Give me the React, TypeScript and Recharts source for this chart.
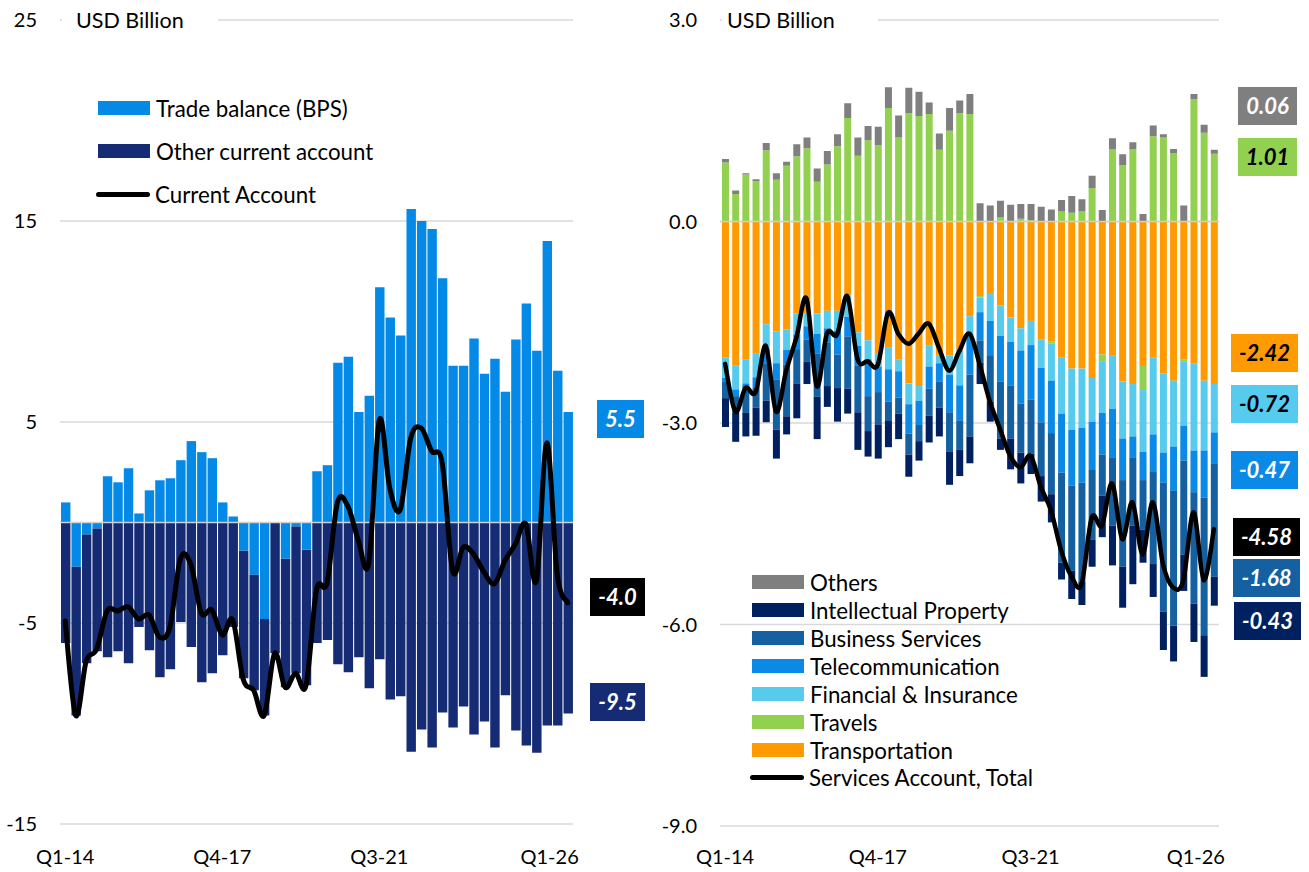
import React from 'react';
import { ComposedChart, Bar, Line, XAxis, YAxis, CartesianGrid, ReferenceLine } from 'recharts';

// ---------- categories ----------
const quarters = [
  'Q1-14','Q2-14','Q3-14','Q4-14','Q1-15','Q2-15','Q3-15','Q4-15','Q1-16','Q2-16','Q3-16','Q4-16',
  'Q1-17','Q2-17','Q3-17','Q4-17','Q1-18','Q2-18','Q3-18','Q4-18','Q1-19','Q2-19','Q3-19','Q4-19',
  'Q1-20','Q2-20','Q3-20','Q4-20','Q1-21','Q2-21','Q3-21','Q4-21','Q1-22','Q2-22','Q3-22','Q4-22',
  'Q1-23','Q2-23','Q3-23','Q4-23','Q1-24','Q2-24','Q3-24','Q4-24','Q1-25','Q2-25','Q3-25','Q4-25',
  'Q1-26',
];
const xTicks = ['Q1-14', 'Q4-17', 'Q3-21', 'Q1-26'];

// ---------- left panel (USD bn) ----------
const tradeBalance = [
  1.0, -2.2, -0.6, -0.3, 2.3, 2.0, 2.7, 0.45, 1.6, 2.1, 2.2, 3.1, 4.05, 3.5, 3.2, 1.0, 0.3,
  -1.4, -2.6, -4.8, 0.0, -1.8, -0.2, -1.35, 2.55, 2.85, 7.95, 8.25, 5.5, 6.3, 11.7, 10.2, 9.3,
  15.6, 15.0, 14.6, 12.15, 7.8, 7.8, 9.15, 7.4, 8.15, 6.5, 9.1, 10.9, 8.55, 14.0, 7.55, 5.5,
];
const otherCurrentAccount = [
  -6.0, -7.4, -6.4, -6.1, -6.7, -6.4, -7.0, -5.2, -6.35, -7.7, -7.3, -4.95, -6.2, -7.95, -7.5, -6.6, -5.2,
  -6.35, -5.75, -4.8, -6.5, -6.4, -7.3, -6.75, -6.0, -5.85, -7.05, -7.45, -6.7, -8.25, -6.8, -8.8, -8.65,
  -11.4, -10.3, -11.2, -9.45, -10.2, -9.15, -10.55, -9.9, -11.2, -8.6, -10.35, -11.1, -11.45, -10.1, -10.1, -9.5,
];
const currentAccount = [
  -4.9, -9.6, -6.9, -6.3, -4.4, -4.4, -4.2, -4.8, -4.6, -5.7, -5.2, -1.8, -2.1, -4.5, -4.35, -5.6, -4.85,
  -7.8, -8.35, -9.6, -6.5, -8.2, -7.5, -8.1, -3.35, -3.0, 1.0, 0.8, -0.9, -2.0, 5.1, 1.7, 0.65,
  4.2, 4.7, 3.55, 2.97, -2.4, -1.24, -1.57, -2.47, -3.05, -1.9, -1.07, -0.08, -2.9, 3.96, -2.6, -4.0,
];

// ---------- right panel (USD bn) ----------
const transportation = [
  -2.03, -2.14, -2.05, -1.96, -1.53, -1.64, -1.61, -1.37, -1.37, -1.37, -1.33, -1.33, -1.10, -1.65, -1.77, -1.96, -1.88,
  -2.05, -2.41, -2.45, -1.85, -1.99, -2.00, -1.92, -1.41, -1.11, -1.08, -1.25, -1.43, -1.59, -1.48, -1.76, -1.79,
  -2.02, -2.19, -2.19, -2.33, -1.98, -1.99, -2.38, -2.42, -2.15, -2.02, -2.26, -2.37, -2.06, -2.11, -2.37, -2.42,
];
const travels = [
  0.88, 0.41, 0.70, 0.60, 1.06, 0.62, 0.83, 0.97, 1.09, 0.59, 0.85, 1.12, 1.54, 0.98, 1.21, 1.14, 1.69,
  1.25, 1.61, 1.57, 1.60, 1.07, 1.35, 1.61, 1.60, -0.02, 0.0, 0.06, 0.0, 0.04, 0.02, 0.0, -0.03,
  0.15, 0.13, 0.15, 0.50, -0.10, 1.08, 0.84, 1.08, -0.36, 1.27, 1.25, 1.02, -0.02, 1.82, 1.32, 1.01,
];
const financialInsurance = [
  -0.30, -0.36, -0.36, -0.36, -0.37, -0.47, -0.30, -0.31, -0.19, -0.30, -0.26, -0.30, -0.32, -0.20, -0.28, -0.20, -0.32,
  -0.18, -0.31, -0.22, -0.31, -0.12, -0.28, -0.52, -0.29, -0.22, -0.40, -0.45, -0.36, -0.33, -0.36, -0.42, -0.55,
  -0.84, -0.91, -0.88, -0.65, -0.77, -0.80, -0.85, -0.78, -0.92, -1.15, -1.18, -0.98, -0.96, -1.30, -1.04, -0.72,
];
const telecommunication = [
  -0.06, -0.10, -0.04, -0.15, -0.21, -0.24, -0.22, -0.22, -0.20, -0.30, -0.21, -0.35, -0.29, -0.30, -0.55, -0.38, -0.48,
  -0.39, -0.44, -0.36, -0.33, -0.27, -0.56, -0.52, -0.58, -0.42, -0.51, -0.68, -0.65, -0.79, -0.81, -0.81, -0.78,
  -0.88, -0.83, -0.82, -0.72, -0.62, -0.72, -0.62, -0.32, -0.42, -0.56, -0.45, -0.66, -0.52, -0.62, -0.70, -0.47,
];
const businessServices = [
  -0.24, -0.25, -0.40, -0.30, -0.56, -0.75, -0.77, -0.51, -0.33, -0.64, -0.65, -0.50, -0.78, -0.69, -0.52, -0.48, -0.29,
  -0.24, -0.31, -0.24, -0.40, -0.39, -0.59, -0.44, -0.92, -0.33, -0.69, -0.85, -0.79, -0.73, -0.81, -0.80, -0.91,
  -1.34, -1.27, -1.47, -1.04, -0.61, -1.02, -1.29, -1.01, -0.74, -1.37, -1.92, -2.01, -1.40, -1.66, -2.05, -1.68,
];
const intellectualProperty = [
  -0.43, -0.43, -0.35, -0.42, -0.32, -0.43, -0.27, -0.52, -0.33, -0.63, -0.31, -0.50, -0.37, -0.56, -0.38, -0.51, -0.39,
  -0.38, -0.33, -0.29, -0.40, -0.43, -0.49, -0.39, -0.40, -0.32, -0.30, -0.17, -0.46, -0.46, -0.30, -0.38, -0.42,
  -0.25, -0.42, -0.35, -0.40, -0.62, -0.59, -0.61, -0.87, -0.49, -0.49, -0.57, -0.53, -0.54, -0.57, -0.62, -0.43,
];
const others = [
  0.05, 0.05, 0.02, 0.03, 0.11, 0.10, 0.06, 0.18, 0.16, 0.20, 0.20, 0.18, 0.22, 0.27, 0.21, 0.27, 0.31,
  0.33, 0.38, 0.36, 0.17, 0.24, 0.34, 0.19, 0.30, 0.27, 0.24, 0.25, 0.25, 0.22, 0.24, 0.22, 0.18,
  0.17, 0.25, 0.18, 0.18, 0.17, 0.16, 0.16, 0.10, 0.11, 0.16, 0.05, 0.06, 0.24, 0.08, 0.12, 0.06,
];
const servicesTotal = [
  -2.12, -2.83, -2.48, -2.54, -1.85, -2.83, -2.22, -1.73, -1.15, -2.45, -1.67, -1.68, -1.11, -2.05, -2.08, -2.13, -1.36,
  -1.67, -1.82, -1.67, -1.52, -1.88, -2.22, -1.93, -1.67, -2.13, -2.68, -3.09, -3.49, -3.66, -3.49, -3.95, -4.30,
  -4.90, -5.28, -5.40, -4.41, -4.53, -3.90, -4.73, -4.18, -4.96, -4.18, -5.10, -5.45, -5.34, -4.33, -5.34, -4.58,
];

const C = {
  trade: '#0589e6',
  other: '#152b73',
  others: '#7f7f7f',
  ip: '#002060',
  business: '#1460a0',
  telecom: '#0a8ae6',
  financial: '#56cbee',
  travels: '#92d050',
  transport: '#ff9a00',
  grid: '#d9d9d9',
};
const FONT = 'Lato, "Open Sans", sans-serif';

const leftData = quarters.map((q, i) => ({
  q, trade: tradeBalance[i], other: otherCurrentAccount[i], ca: currentAccount[i],
}));
const rightData = quarters.map((q, i) => ({
  q,
  transport: transportation[i], travels: travels[i], financial: financialInsurance[i],
  telecom: telecommunication[i], business: businessServices[i], ip: intellectualProperty[i],
  others: others[i], total: servicesTotal[i],
}));

// Excel-like smoothed line (Catmull-Rom through every point)
const smoothCurve: any = (context: any) => {
  let pts: number[][] = [];
  return {
    areaStart() {}, areaEnd() {},
    lineStart() { pts = []; },
    point(x: number, y: number) { pts.push([+x, +y]); },
    lineEnd() {
      const n = pts.length;
      if (!n) return;
      context.moveTo(pts[0][0], pts[0][1]);
      for (let i = 0; i < n - 1; i++) {
        const p0 = pts[Math.max(i - 1, 0)], p1 = pts[i], p2 = pts[i + 1], p3 = pts[Math.min(i + 2, n - 1)];
        context.bezierCurveTo(
          p1[0] + (p2[0] - p0[0]) / 6, p1[1] + (p2[1] - p0[1]) / 6,
          p2[0] - (p3[0] - p1[0]) / 6, p2[1] - (p3[1] - p1[1]) / 6,
          p2[0], p2[1],
        );
      }
    },
  };
};

const XTick = (props: any) => {
  const { x, y, payload } = props;
  const isLast = payload.value === quarters[quarters.length - 1];
  return (
    <text x={isLast ? x + 11 : x} y={y} dy="0.71em" textAnchor={isLast ? 'end' : 'middle'}
      fill="#000" fontSize={20} fontFamily={FONT}>{payload.value}</text>
  );
};

const tickStyle = { fontSize: 20, fill: '#000', fontFamily: FONT };

const abs = (l: number, t: number, extra: any = {}) => ({ position: 'absolute' as const, left: l, top: t, ...extra });

const ValueBox = ({ l, t, w, bg, color, text }: any) => (
  <div style={abs(l, t, {
    width: w, height: 38, background: bg, color, fontFamily: FONT, fontWeight: 700, fontStyle: 'italic',
    fontSize: 22, display: 'flex', alignItems: 'center', justifyContent: 'center', lineHeight: 1,
  })}>{text}</div>
);

const LEG_FONT = 22.3;
const LegendRect = ({ l, t, color, label }: any) => (
  <div style={abs(l, t - 14, { height: 28, display: 'flex', alignItems: 'center', fontFamily: FONT, fontSize: LEG_FONT, color: '#000', whiteSpace: 'nowrap' })}>
    <div style={{ width: 52, height: 14, background: color, marginRight: 6, flex: 'none' }} />
    {label}
  </div>
);
const LegendLine = ({ l, t, label }: any) => (
  <div style={abs(l, t - 14, { height: 28, display: 'flex', alignItems: 'center', fontFamily: FONT, fontSize: LEG_FONT, color: '#000', whiteSpace: 'nowrap' })}>
    <div style={{ width: 54, height: 5, background: '#000', borderRadius: 3, marginRight: 5, flex: 'none' }} />
    {label}
  </div>
);

const fmt1 = (v: number) => v.toFixed(1);
const fmt2 = (v: number) => v.toFixed(2);
const L = quarters.length - 1;

export default function App() {
  return (
    <div style={{ position: 'absolute', left: 0, top: 0, width: 1309, height: 872, background: '#fff', overflow: 'hidden' }}>
      {/* LEFT PANEL */}
      <div style={abs(0, 0)}>
        <ComposedChart width={600} height={872} data={leftData} stackOffset="sign"
          margin={{ top: 20, right: 27, bottom: 0, left: 0 }} barCategoryGap={0} barGap={0}>
          <CartesianGrid horizontal vertical={false} stroke={C.grid} strokeWidth={1.5} />
          <XAxis dataKey="q" ticks={xTicks} interval={0} height={48} axisLine={false} tickLine={false}
            tickMargin={20} tick={<XTick />} />
          <YAxis type="number" domain={[-15, 25]} ticks={[-15, -5, 5, 15, 25]} interval={0} width={60}
            axisLine={false} tickLine={false} tickMargin={17} tick={tickStyle} allowDataOverflow />
          <Bar dataKey="trade" stackId="s" fill={C.trade} barSize={10.5} isAnimationActive={false} />
          <Bar dataKey="other" stackId="s" fill={C.other} barSize={10.5} isAnimationActive={false} />
          <ReferenceLine y={0} stroke="#d0d0d0" strokeWidth={1.5} />
          <Line dataKey="ca" type={smoothCurve} stroke="#000" strokeWidth={5} dot={false}
            strokeLinecap="round" strokeLinejoin="round" isAnimationActive={false} />
        </ComposedChart>
      </div>

      {/* RIGHT PANEL */}
      <div style={abs(640, 0)}>
        <ComposedChart width={600} height={872} data={rightData} stackOffset="sign"
          margin={{ top: 20, right: 21, bottom: 0, left: 0 }}>
          <CartesianGrid horizontal vertical={false} stroke={C.grid} strokeWidth={1.5} />
          <XAxis dataKey="q" ticks={xTicks} interval={0} height={46} axisLine={false} tickLine={false}
            tickMargin={18} tick={<XTick />} />
          <YAxis type="number" domain={[-9, 3]} ticks={[-9, -6, -3, 0, 3]} interval={0} width={80}
            axisLine={false} tickLine={false} tickMargin={17} tick={tickStyle} tickFormatter={fmt1} allowDataOverflow />
          <Bar dataKey="transport" stackId="r" fill={C.transport} barSize={7} isAnimationActive={false} />
          <Bar dataKey="travels" stackId="r" fill={C.travels} barSize={7} isAnimationActive={false} />
          <Bar dataKey="financial" stackId="r" fill={C.financial} barSize={7} isAnimationActive={false} />
          <Bar dataKey="telecom" stackId="r" fill={C.telecom} barSize={7} isAnimationActive={false} />
          <Bar dataKey="business" stackId="r" fill={C.business} barSize={7} isAnimationActive={false} />
          <Bar dataKey="ip" stackId="r" fill={C.ip} barSize={7} isAnimationActive={false} />
          <Bar dataKey="others" stackId="r" fill={C.others} barSize={7} isAnimationActive={false} />
          <ReferenceLine y={0} stroke="#d0d0d0" strokeWidth={1.5} />
          <Line dataKey="total" type={smoothCurve} stroke="#000" strokeWidth={4.5} dot={false}
            strokeLinecap="round" strokeLinejoin="round" isAnimationActive={false} />
        </ComposedChart>
      </div>

      {/* titles */}
      <div style={abs(62, 5, { width: 156, height: 30, background: '#fff', fontFamily: FONT, fontSize: 21.5, color: '#000', paddingLeft: 14, boxSizing: 'border-box', lineHeight: '30px', whiteSpace: 'nowrap' })}>USD Billion</div>
      <div style={abs(722, 5, { width: 156, height: 30, background: '#fff', fontFamily: FONT, fontSize: 21.5, color: '#000', paddingLeft: 5, boxSizing: 'border-box', lineHeight: '30px', whiteSpace: 'nowrap' })}>USD Billion</div>

      {/* left legend */}
      <LegendRect l={98} t={108} color={C.trade} label="Trade balance (BPS)" />
      <LegendRect l={98} t={151} color={C.other} label="Other current account" />
      <LegendLine l={96} t={194} label="Current Account" />

      {/* right legend */}
      <LegendRect l={752} t={582} color={C.others} label="Others" />
      <LegendRect l={752} t={610} color={C.ip} label="Intellectual Property" />
      <LegendRect l={752} t={638} color={C.business} label="Business Services" />
      <LegendRect l={752} t={666} color={C.telecom} label="Telecommunication" />
      <LegendRect l={752} t={694} color={C.financial} label="Financial & Insurance" />
      <LegendRect l={752} t={722} color={C.travels} label="Travels" />
      <LegendRect l={752} t={750} color={C.transport} label="Transportation" />
      <LegendLine l={750} t={777} label="Services Account, Total" />

      {/* left value boxes */}
      <ValueBox l={597} t={400} w={47} bg={C.trade} color="#fff" text={fmt1(tradeBalance[L])} />
      <ValueBox l={590} t={578} w={55} bg="#000" color="#fff" text={fmt1(currentAccount[L])} />
      <ValueBox l={590} t={683} w={55} bg={C.other} color="#fff" text={fmt1(otherCurrentAccount[L])} />

      {/* right value boxes */}
      <ValueBox l={1238} t={87} w={59} bg={C.others} color="#fff" text={fmt2(others[L])} />
      <ValueBox l={1238} t={138} w={59} bg={C.travels} color="#000" text={fmt2(travels[L])} />
      <ValueBox l={1231} t={334} w={67} bg={C.transport} color="#000" text={fmt2(transportation[L])} />
      <ValueBox l={1231} t={385} w={67} bg={C.financial} color="#000" text={fmt2(financialInsurance[L])} />
      <ValueBox l={1231} t={451} w={67} bg={C.telecom} color="#fff" text={fmt2(telecommunication[L])} />
      <ValueBox l={1233} t={518} w={67} bg="#000" color="#fff" text={fmt2(servicesTotal[L])} />
      <ValueBox l={1233} t={559} w={67} bg={C.business} color="#fff" text={fmt2(businessServices[L])} />
      <ValueBox l={1234} t={602} w={67} bg={C.ip} color="#fff" text={fmt2(intellectualProperty[L])} />
    </div>
  );
}
